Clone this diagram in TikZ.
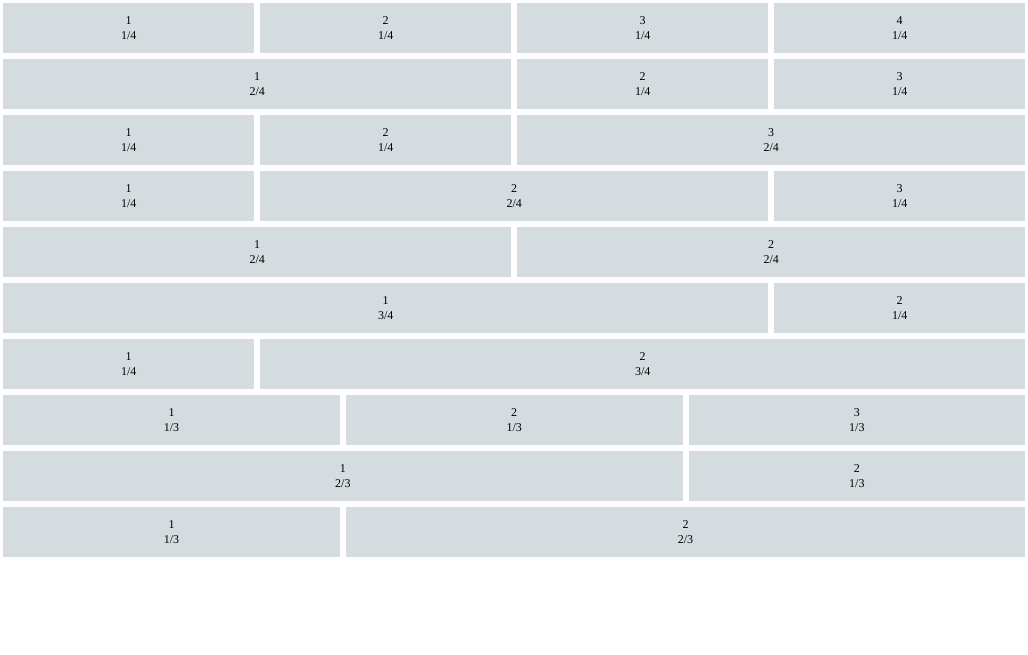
\documentclass[tikz,border=0pt]{standalone}
\usepackage{fontspec}
\setmainfont{Liberation Serif}
\definecolor{cellgray}{HTML}{D4DCE0}
\tikzset{
  cell/.style={fill=cellgray, inner sep=0pt, anchor=north west,
    minimum height=50pt, align=center,
    font=\fontsize{12}{15}\selectfont}
}
\begin{document}
\begin{tikzpicture}[x=1pt, y=-1pt]
    % page frame
    \useasboundingbox (0,0) rectangle (1028,654);

    % rows: row/grid/{start/span/label}
    \foreach \r/\g/\cells in {
        1/4/{0/1/1, 1/1/2, 2/1/3, 3/1/4},
        2/4/{0/2/1, 2/1/2, 3/1/3},
        3/4/{0/1/1, 1/1/2, 2/2/3},
        4/4/{0/1/1, 1/2/2, 3/1/3},
        5/4/{0/2/1, 2/2/2},
        6/4/{0/3/1, 3/1/2},
        7/4/{0/1/1, 1/3/2},
        8/3/{0/1/1, 1/1/2, 2/1/3},
        9/3/{0/2/1, 2/1/2},
        10/3/{0/1/1, 1/2/2}}
    {
        \foreach \c/\s/\t in \cells {
            \pgfmathsetmacro{\cx}{3+\c*1028/\g}
            \pgfmathsetmacro{\cy}{3+(\r-1)*56}
            \pgfmathsetmacro{\cw}{\s*1028/\g-6}
            \node[cell, minimum width=\cw pt] (r\r c\t) at (\cx,\cy) {\t\\\s/\g};
        }
    }
\end{tikzpicture}
\end{document}
